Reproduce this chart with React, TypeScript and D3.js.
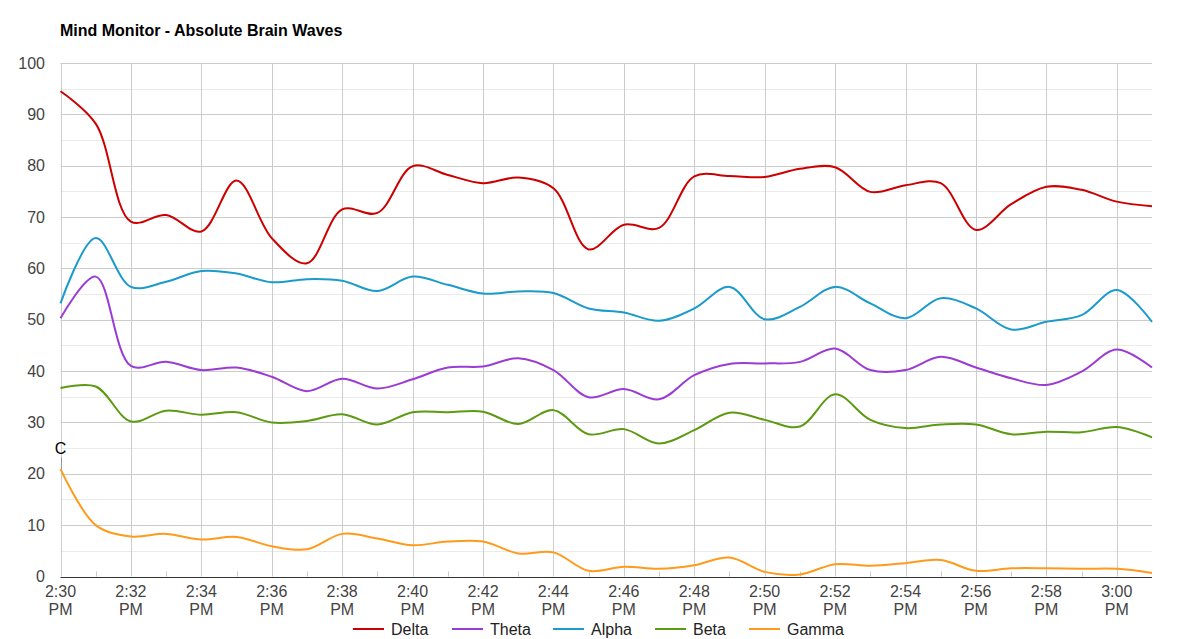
import React, { useEffect, useRef } from 'react'
import * as d3 from 'd3'

const times = [
	'14:30', '14:31', '14:32', '14:33', '14:34', '14:35', '14:36', '14:37',
	'14:38', '14:39', '14:40', '14:41', '14:42', '14:43', '14:44', '14:45',
	'14:46', '14:47', '14:48', '14:49', '14:50', '14:51', '14:52', '14:53',
	'14:54', '14:55', '14:56', '14:57', '14:58', '14:59', '15:00', '15:01'
]

const delta = [
	94.5, 88.2, 69.1, 70.4, 67.2, 77.1, 65.9, 61.0, 71.5, 70.8, 79.9, 78.2,
	76.6, 77.7, 75.6, 63.7, 68.5, 67.9, 77.9, 78.0, 77.8, 79.4, 79.7, 74.9,
	76.2, 76.6, 67.5, 72.5, 75.9, 75.3, 73.0, 72.1
]
const theta = [
	50.3, 58.4, 41.0, 41.8, 40.2, 40.7, 38.9, 36.1, 38.5, 36.6, 38.4, 40.7,
	40.9, 42.5, 40.2, 34.9, 36.5, 34.5, 39.2, 41.4, 41.5, 41.8, 44.4, 40.2,
	40.2, 42.8, 40.7, 38.6, 37.3, 39.9, 44.2, 40.7
]
const alpha = [
	53.2, 65.9, 56.4, 57.4, 59.5, 59.0, 57.3, 57.9, 57.6, 55.6, 58.4, 56.8,
	55.1, 55.5, 55.2, 52.2, 51.4, 49.8, 52.2, 56.4, 50.1, 52.5, 56.4, 53.2,
	50.3, 54.2, 52.2, 48.1, 49.6, 50.9, 55.8, 49.6
]
const beta = [
	36.7, 37.0, 30.2, 32.3, 31.5, 32.0, 30.0, 30.3, 31.6, 29.6, 32.0, 32.0,
	32.1, 29.7, 32.4, 27.7, 28.7, 25.9, 28.5, 31.9, 30.5, 29.2, 35.5, 30.5,
	28.9, 29.6, 29.6, 27.7, 28.2, 28.1, 29.1, 27.1
]
const gamma = [
	20.9, 10.0, 7.8, 8.3, 7.2, 7.7, 5.9, 5.3, 8.3, 7.4, 6.1, 6.8,
	6.8, 4.5, 4.7, 1.1, 1.9, 1.5, 2.2, 3.7, 0.9, 0.4, 2.4, 2.1,
	2.6, 3.2, 1.1, 1.6, 1.6, 1.5, 1.5, 0.7
]

const seriesNames = ['Delta', 'Theta', 'Alpha', 'Beta', 'Gamma']
const seriesValues = [delta, theta, alpha, beta, gamma]
const seriesColors = ['#cc0000', '#9b3bd6', '#1a9bcb', '#5c9a12', '#ff9a1a']

const yTicks = [0, 10, 20, 30, 40, 50, 60, 70, 80, 90, 100]
const annotationText = 'C'

const App = () => {
	const svgRef = useRef<SVGSVGElement>(null)

	const width = 1200
	const height = 639
	const marginTop = 63
	const marginRight = 48
	const marginBottom = 62.5
	const marginLeft = 60.5
	const font = 'Arial, "Liberation Sans", sans-serif'

	useEffect(() => {
		if (!svgRef.current) return
		const svg = d3.select(svgRef.current)
		svg.selectAll('*').remove()

		const parse = d3.timeParse('%H:%M')
		const dates = times.map(t => parse(t) as Date)

		const x = d3
			.scaleTime()
			.domain(d3.extent(dates) as [Date, Date])
			.range([marginLeft, width - marginRight])

		const y = d3
			.scaleLinear()
			.domain([0, 100])
			.range([height - marginBottom, marginTop])

		// title
		svg
			.append('text')
			.attr('x', 60)
			.attr('y', 36)
			.attr('font-family', font)
			.attr('font-size', 16)
			.attr('font-weight', 'bold')
			.attr('fill', '#000')
			.text('Mind Monitor - Absolute Brain Waves')

		// minor horizontal grid
		const minor = d3.range(5, 100, 10)
		svg
			.append('g')
			.selectAll('line')
			.data(minor)
			.join('line')
			.attr('x1', marginLeft)
			.attr('x2', width - marginRight)
			.attr('y1', d => Math.round(y(d)) + 0.5)
			.attr('y2', d => Math.round(y(d)) + 0.5)
			.attr('stroke', '#ebebeb')

		// vertical grid every 2 minutes
		const majorX = d3.timeMinute.every(2)!.range(dates[0], dates[dates.length - 1])
		const minorX = d3.timeMinute
			.range(dates[0], dates[dates.length - 1])
			.filter(d => d.getMinutes() % 2 === 1)
		svg
			.append('g')
			.selectAll('line')
			.data(majorX)
			.join('line')
			.attr('x1', d => Math.round(x(d)) + 0.5)
			.attr('x2', d => Math.round(x(d)) + 0.5)
			.attr('y1', marginTop)
			.attr('y2', height - marginBottom)
			.attr('stroke', '#cccccc')

		// major horizontal grid
		svg
			.append('g')
			.selectAll('line')
			.data(yTicks.filter(d => d > 0))
			.join('line')
			.attr('x1', marginLeft)
			.attr('x2', width - marginRight)
			.attr('y1', d => Math.round(y(d)) + 0.5)
			.attr('y2', d => Math.round(y(d)) + 0.5)
			.attr('stroke', '#cccccc')

		// minor ticks on baseline
		svg
			.append('g')
			.selectAll('line')
			.data(minorX)
			.join('line')
			.attr('x1', d => Math.round(x(d)) + 0.5)
			.attr('x2', d => Math.round(x(d)) + 0.5)
			.attr('y1', y(0) - 5)
			.attr('y2', y(0))
			.attr('stroke', '#cccccc')

		// y labels
		svg
			.append('g')
			.selectAll('text')
			.data(yTicks)
			.join('text')
			.attr('x', 45)
			.attr('y', d => y(d))
			.attr('dy', '0.35em')
			.attr('text-anchor', 'end')
			.attr('font-family', font)
			.attr('font-size', 16)
			.attr('fill', '#444')
			.text(d => d)

		// x labels, two lines
		const fmt = d3.timeFormat('%-I:%M')
		const fmtAmPm = d3.timeFormat('%p')
		const xl = svg
			.append('g')
			.selectAll('text')
			.data(majorX)
			.join('text')
			.attr('text-anchor', 'middle')
			.attr('font-family', font)
			.attr('font-size', 16)
			.attr('fill', '#444')
		xl.append('tspan')
			.attr('x', d => x(d))
			.attr('y', 597)
			.text(d => fmt(d))
		xl.append('tspan')
			.attr('x', d => x(d))
			.attr('y', 615)
			.text(d => fmtAmPm(d))

		// lines
		const line = d3
			.line<number>()
			.x((_, i) => x(dates[i]))
			.y(d => y(d))
			.curve(d3.curveCatmullRom.alpha(0.5))

		svg
			.append('g')
			.selectAll('path')
			.data(seriesValues)
			.join('path')
			.attr('fill', 'none')
			.attr('stroke', (_, i) => seriesColors[i])
			.attr('stroke-width', 2)
			.attr('stroke-linejoin', 'round')
			.attr('d', d => line(d))

		// baseline
		svg
			.append('line')
			.attr('x1', marginLeft)
			.attr('x2', width - marginRight)
			.attr('y1', Math.round(y(0)) + 0.5)
			.attr('y2', Math.round(y(0)) + 0.5)
			.attr('stroke', '#333')

		// annotation on first gamma point
		const ax = x(dates[0])
		const ay = y(gamma[0])
		svg
			.append('line')
			.attr('x1', Math.round(ax) + 0.5)
			.attr('x2', Math.round(ax) + 0.5)
			.attr('y1', ay - 12)
			.attr('y2', ay)
			.attr('stroke', '#999')
		svg
			.append('text')
			.attr('x', ax)
			.attr('y', ay - 15)
			.attr('text-anchor', 'middle')
			.attr('font-family', font)
			.attr('font-size', 16)
			.attr('fill', '#000')
			.text(annotationText)

		// legend
		const legendX = [353, 452, 553, 655, 749]
		const lg = svg
			.append('g')
			.selectAll('g')
			.data(seriesNames)
			.join('g')
			.attr('transform', (_, i) => `translate(${legendX[i]}, 629)`)
		lg.append('line')
			.attr('x1', 0)
			.attr('x2', 31)
			.attr('stroke', (_, i) => seriesColors[i])
			.attr('stroke-width', 2)
		lg.append('text')
			.attr('x', 38)
			.attr('dy', '0.35em')
			.attr('font-family', font)
			.attr('font-size', 16)
			.attr('fill', '#222')
			.text(d => d)
	}, [])

	return (
		<svg
			ref={svgRef}
			width={width}
			height={height}
			style={{ position: 'absolute', left: 0, top: 0, background: '#fff' }}
		></svg>
	)
}

export default App
